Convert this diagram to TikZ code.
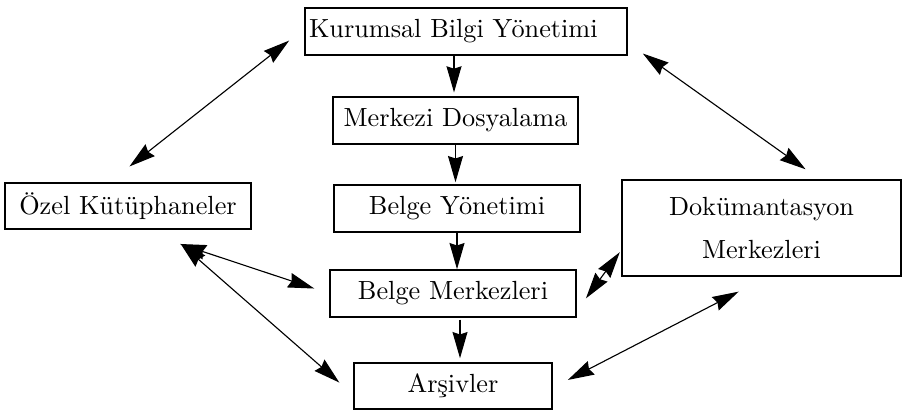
\documentclass[tikz,border=0pt]{standalone}
\usepackage{tikz}
\usetikzlibrary{arrows.meta}

\begin{document}
\begin{tikzpicture}[x=0.4pt, y=-0.4pt, line width=0.45pt,
    >={Stealth[length=10.5pt,width=6pt,inset=1pt]},
    kutu/.style={draw, line width=0.6pt, inner sep=0pt, font=\fontsize{10.5}{12.6}\selectfont}]
    \useasboundingbox (0,0) rectangle (904,410);

    \node[kutu, minimum height=18.8pt, text width=125.6pt, inner xsep=1.6pt, align=left] (KBY) at (466,31.5) {Kurumsal Bilgi Yönetimi};
    \node[kutu, minimum width=98pt, minimum height=18.8pt] (MD) at (455.5,120.5) {Merkezi Dosyalama};
    \node[kutu, minimum width=98.4pt, minimum height=18.4pt] (OK) at (128,206) {Özel Kütüphaneler};
    \node[kutu, minimum width=98.4pt, minimum height=18.8pt] (BY) at (457,208.5) {Belge Yönetimi};
    \node[kutu, minimum width=111.6pt, minimum height=38.4pt, align=center] (DM) at (761.5,228) {Dokümantasyon\\[4.4pt] Merkezleri};
    \node[kutu, minimum width=98.4pt, minimum height=18.8pt] (BM) at (453,293.5) {Belge Merkezleri};
    \node[kutu, minimum width=79.2pt, minimum height=18.4pt] (AR) at (453,386) {Arşivler};

    \draw[->, shorten >=1.5pt] ([xshift=-0.6pt]MD.north |- KBY.south) -- ([xshift=-0.6pt]MD.north);
    \draw[->, shorten >=0.8pt] (MD.south) -- (MD.south |- BY.north);
    \draw[->] (BY.south) -- (BY.south |- BM.north);
    \draw[->, shorten <=0.8pt, shorten >=1.6pt] ([xshift=2.8pt]BM.south) -- ([xshift=2.8pt]BM.south |- AR.north);

    \draw[<->, shorten <=7.7pt, shorten >=10.2pt] (KBY.179) -- (OK.128);
    \draw[<->, shorten <=7.4pt, shorten >=6.9pt] (KBY.-4) -- (DM.40);
    \draw[<->, shorten <=18.1pt, shorten >=6.3pt] (OK.-69) -- (BM.west);
    \draw[<->, shorten <=8.5pt, shorten >=7.4pt] (OK.-33) -- (AR.185);
    \draw[<->, shorten <=1pt, shorten >=6.2pt] (DM.189) -- (BM.-8);
    \draw[<->, shorten <=13pt, shorten >=6.8pt] (DM.-83) -- (AR.-1);
\end{tikzpicture}
\end{document}
